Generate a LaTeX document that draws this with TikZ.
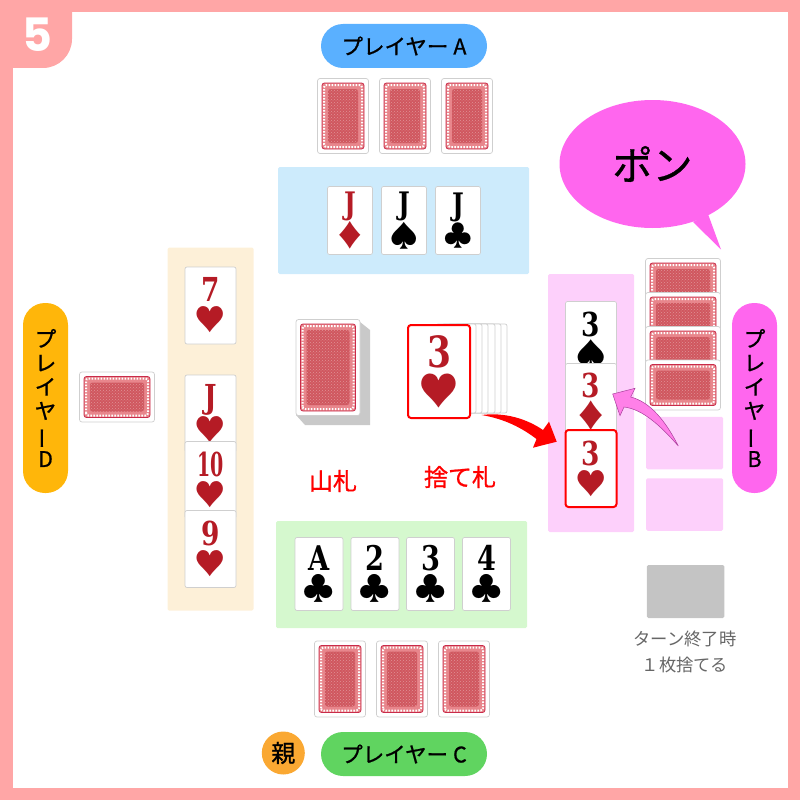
\documentclass[tikz,border=0pt]{standalone}
\usepackage{fontspec}
\usepackage{graphicx}
\usetikzlibrary{shapes.geometric, positioning, patterns}
\setmainfont{Noto Sans CJK JP}[FakeBold=0.9]
\newfontfamily\plainjp{Noto Sans CJK JP}
\newfontfamily\rankfont{DejaVu Serif}[FakeStretch=0.8]
\newfontfamily\badgefont{Poppins}
\definecolor{framepink}{HTML}{FFA6A6}
\definecolor{areablue}{HTML}{CDEBFC}
\definecolor{areaorange}{HTML}{FDF0D8}
\definecolor{areagreen}{HTML}{D5F8CE}
\definecolor{areapink}{HTML}{FDD0FB}
\definecolor{pillblue}{HTML}{5AB0FF}
\definecolor{pillgreen}{HTML}{60D460}
\definecolor{pillorange}{HTML}{FFB60A}
\definecolor{pillmagenta}{HTML}{FF66EE}
\definecolor{oyaorange}{HTML}{FAA832}
\definecolor{cardred}{HTML}{B51B25}
\definecolor{cardedge}{HTML}{CFCFCF}
\definecolor{backred}{HTML}{C92B4A}
\definecolor{backfill}{HTML}{E8868C}
\definecolor{backinner}{HTML}{D0575F}
\definecolor{arrowpink}{HTML}{FF80E8}
\definecolor{arrowedge}{HTML}{A8409C}
\newcommand{\cardface}[2]{{\rankfont\bfseries #1}\\{\plainjp\scalebox{0.95}{#2}}}
\newcommand{\tatename}[1]{プ\\レ\\イ\\ヤ\\\rotatebox[origin=c]{90}{ー}\\#1}
\tikzset{
    area/.style={rectangle, rounded corners=1.5pt, inner sep=0pt, outer sep=0pt},
    pill/.style={rectangle, rounded corners=22pt, inner sep=0pt, outer sep=0pt, align=center,
                 font=\fontsize{21.5}{24}\selectfont},
    facecard/.style={rectangle, draw=cardedge, fill=white, rounded corners=2pt, inner sep=0pt, outer sep=0pt,
                     align=center, line width=0.7pt},
    smallface/.style={facecard, minimum width=45pt, minimum height=68pt, font=\fontsize{31}{29}\selectfont},
    midface/.style={facecard, minimum width=48pt, minimum height=73pt, font=\fontsize{34}{30}\selectfont},
    tallface/.style={facecard, minimum width=51pt, minimum height=77pt, font=\fontsize{33}{30}\selectfont},
    picked/.style={draw=red, line width=2pt, rounded corners=3pt},
    backcard/.style={rectangle, draw=cardedge, fill=white, rounded corners=2.5pt, inner sep=0pt, outer sep=0pt,
        line width=0.7pt, minimum width=51pt, minimum height=75pt,
        path picture={
            \path[fill=backfill, draw=backred, line width=0.8pt]
                ([shift={(4.5pt,4.5pt)}]path picture bounding box.south west) rectangle
                ([shift={(-4.5pt,-4.5pt)}]path picture bounding box.north east);
            \draw[white, line width=2pt, dash pattern=on 1.5pt off 1.5pt]
                ([shift={(6.5pt,6.5pt)}]path picture bounding box.south west) rectangle
                ([shift={(-6.5pt,-6.5pt)}]path picture bounding box.north east);
            \path[fill=backinner]
                ([shift={(10.5pt,10.5pt)}]path picture bounding box.south west) rectangle
                ([shift={(-10.5pt,-10.5pt)}]path picture bounding box.north east);
            \path[pattern=crosshatch dots, pattern color=white!35!backinner]
                ([shift={(10.5pt,10.5pt)}]path picture bounding box.south west) rectangle
                ([shift={(-10.5pt,-10.5pt)}]path picture bounding box.north east);
        }},
    wideback/.style={backcard, minimum width=75pt, minimum height=50pt},
    fanback/.style={rectangle, draw=cardedge, fill=white, rounded corners=2pt, inner sep=0pt, outer sep=0pt,
                    line width=0.7pt, anchor=east, minimum width=40pt, minimum height=89pt},
    redlbl/.style={font=\fontsize{24}{24}\selectfont, text=red, inner sep=0pt},
    note/.style={font=\plainjp\fontsize{17.3}{26.5}\selectfont, text=black!60, align=center, inner sep=0pt},
}

\begin{document}
\begin{tikzpicture}[x=1pt, y=-1pt]
    \useasboundingbox (0,0) rectangle (800,800);

    % frame and step number
    \draw[framepink, line width=12.5pt] (6.25,6.25) rectangle (793.75,793.75);
    \fill[framepink] (0,0) -- (72,0) [rounded corners=29pt] -- (72,68) [sharp corners] -- (0,68) -- cycle;
    \node[text=white, inner sep=0pt, font=\badgefont\bfseries\fontsize{46}{46}\selectfont] (stepno) at (37.5,35) {5};

    % player names
    \node[pill, fill=pillblue, minimum width=166pt, minimum height=44pt] (playera) at (404,46) {プレイヤー\hspace{5pt}A};
    \node[pill, fill=pillgreen, minimum width=166pt, minimum height=44pt] (playerc) at (404,754) {プレイヤー\hspace{5pt}C};
    \node[pill, fill=pillorange, minimum width=45pt, minimum height=190pt] (playerd) at (45.5,398) {\tatename{D}};
    \node[pill, fill=pillmagenta, minimum width=45pt, minimum height=190pt] (playerb) at (754.5,398) {\tatename{B}};
    \node[circle, fill=oyaorange, minimum size=43pt, inner sep=0pt, font=\fontsize{24}{24}\selectfont] (oya) at (283.3,753) {親};

    % player A
    \node[backcard] (backa1) at (343,116) {};
    \node[backcard, right=11pt of backa1] (backa2) {};
    \node[backcard, right=11pt of backa2] (backa3) {};
    \node[area, fill=areablue, minimum width=251pt, minimum height=107pt] (meldsa) at (403.5,220.5) {};
    \node[smallface, text=cardred] (jackd) at (350,220.5) {\cardface{J}{♦}};
    \node[smallface, right=9pt of jackd] (jacks) {\cardface{J}{♠}};
    \node[smallface, right=9pt of jacks] (jackc) {\cardface{J}{♣}};

    % player D
    \node[wideback] (backd) at (117,397) {};
    \node[area, fill=areaorange, minimum width=86pt, minimum height=363pt] (meldsd) at (210.5,429) {};
    \node[tallface, text=cardred] (seven) at (210.5,305.5) {\cardface{7}{♥}};
    \node[tallface, text=cardred] (jackh) at (210.5,413.5) {\cardface{J}{♥}};
    \node[tallface, text=cardred, below=-10.5pt of jackh] (tenh) {\cardface{\scalebox{0.72}[1]{10}}{♥}};
    \node[tallface, text=cardred, below=-8pt of tenh] (nineh) {\cardface{9}{♥}};

    % player C
    \node[area, fill=areagreen, minimum width=251pt, minimum height=107pt] (meldsc) at (401.5,574.5) {};
    \node[midface] (acec) at (319,574) {\cardface{A}{♣}};
    \node[midface, right=8pt of acec] (twoc) {\cardface{2}{♣}};
    \node[midface, right=7.5pt of twoc] (threec) {\cardface{3}{♣}};
    \node[midface, right=8pt of threec] (fourc) {\cardface{4}{♣}};
    \node[backcard, minimum height=76pt] (backc1) at (340,679) {};
    \node[backcard, minimum height=76pt, right=11pt of backc1] (backc2) {};
    \node[backcard, minimum height=76pt, right=11pt of backc2] (backc3) {};

    % stock
    \fill[black!21] (360,322) -- (370,330) -- (370,425) -- (305,425) -- (296,415) -- cycle;
    \node[backcard, minimum width=64pt, minimum height=96pt] (stock) at (328,367.5) {};
    \node[redlbl] (stocklbl) at (333,481) {山札};

    % discard pile
    \foreach \i/\x in {6/507, 5/501, 4/495, 3/488, 2/482, 1/476}
        \node[fanback] (fan\i) at (\x,368.5) {};
    \node[facecard, picked, minimum width=62pt, minimum height=93pt, text=cardred,
          font=\fontsize{43}{39}\selectfont] (discard) at (439,371.5) {\cardface{3}{♥}};
    \node[redlbl] (discardlbl) at (460,477) {捨て札};

    % player B
    \node[area, fill=areapink, minimum width=86pt, minimum height=258pt] (meldsb) at (591,403) {};
    \node[tallface] (threes) at (591,340) {\cardface{3}{♠}};
    \node[tallface, text=cardred] (threed) at (591,402) {\cardface{3}{♦}};
    \node[tallface, picked, text=cardred] (threeh) at (591,468.5) {\cardface{3}{♥}};
    \node[wideback] (backb1) at (683,283.5) {};
    \node[wideback, below=-16pt of backb1] (backb2) {};
    \node[wideback, below=-16pt of backb2] (backb3) {};
    \node[wideback, below=-16.5pt of backb3] (backb4) {};
    \node[area, fill=areapink, minimum width=77pt, minimum height=52.5pt] (slot1) at (684.5,443) {};
    \node[area, fill=areapink, minimum width=77pt, minimum height=52.5pt] (slot2) at (684.5,504.5) {};
    \node[area, fill=black!23, minimum width=77.5pt, minimum height=53pt] (slot3) at (685.5,591.5) {};
    \node[note] (turnlbl) at (685,652) {ターン終了時\\１枚捨てる};

    % speech bubble
    \fill[pillmagenta] (693,222) -- (721,249.5) -- (708,214) -- cycle;
    \node[ellipse, fill=pillmagenta, minimum width=186pt, minimum height=128pt, inner sep=0pt,
          font=\fontsize{40}{40}\selectfont] (pon) at (652.5,164) {ポン};

    % arrows
    \coordinate (redtail) at (481.5,415);
    \coordinate (redtip) at (556.7,441.7);
    \fill[red] (redtail) .. controls (505,412) and (527,419) .. (543,430)
        -- (549,421.7) -- (redtip) -- (533,447.7) -- (536.5,439)
        .. controls (522,428) and (505,419) .. (redtail);
    \coordinate (pinktail) at (678.3,446);
    \coordinate (pinktip) at (612.7,394);
    \draw[arrowedge, fill=arrowpink, line width=0.5pt] (pinktail) .. controls (665,420) and (650,402) .. (630.7,397)
        -- (635,388.3) -- (pinktip) -- (620,415.7) -- (624,407)
        .. controls (642,409) and (660,425) .. (pinktail);

\end{tikzpicture}
\end{document}
